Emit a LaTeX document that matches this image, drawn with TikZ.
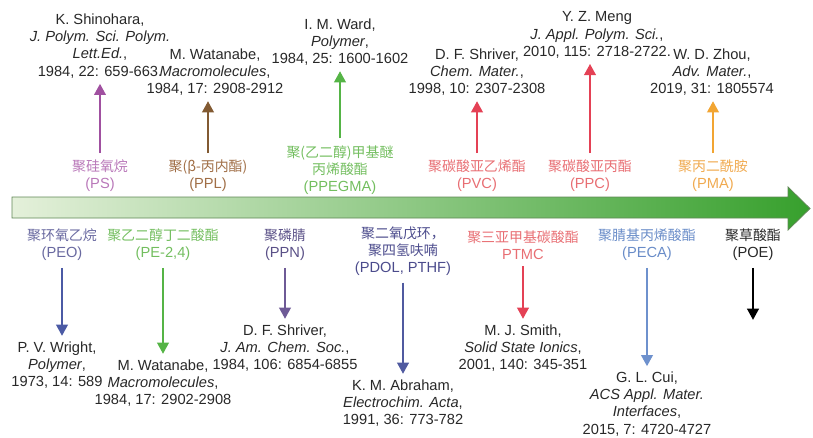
\documentclass[tikz,border=0pt]{standalone}
\usepackage{fontspec}
\setmainfont{Liberation Sans}
\newfontfamily\cjk{Noto Sans CJK SC}[Scale=0.95]
\usetikzlibrary{arrows.meta}

\definecolor{refgray}{RGB}{40,40,40}
\definecolor{barleft}{RGB}{228,240,218}
\definecolor{barmid}{RGB}{140,200,115}
\definecolor{barright}{RGB}{55,160,45}
\definecolor{barline}{RGB}{95,135,85}
\definecolor{psarr}{RGB}{160,80,160}   \definecolor{pstxt}{RGB}{185,120,185}
\definecolor{pplarr}{RGB}{130,90,50}   \definecolor{ppltxt}{RGB}{160,110,70}
\definecolor{grnarr}{RGB}{85,180,70}   \definecolor{grntxt}{RGB}{115,190,95}
\definecolor{redarr}{RGB}{228,65,85}   \definecolor{redtxt}{RGB}{232,110,115}
\definecolor{orgarr}{RGB}{242,165,50}  \definecolor{orgtxt}{RGB}{240,170,80}
\definecolor{peoarr}{RGB}{75,90,165}   \definecolor{peotxt}{RGB}{105,105,160}
\definecolor{ppnarr}{RGB}{110,90,150}  \definecolor{ppntxt}{RGB}{90,80,135}
\definecolor{pdolarr}{RGB}{80,90,160}  \definecolor{pdoltxt}{RGB}{75,75,140}
\definecolor{pecaarr}{RGB}{110,145,205}\definecolor{pecatxt}{RGB}{105,140,200}

\tikzset{
  txt/.style={align=center, inner sep=1pt, font=\fontsize{11}{12.9}\selectfont},
  ref/.style={txt, text=refgray},
  tick/.style={line width=2.2pt, -{Triangle[width=8.5pt,length=8.5pt]},
    shorten <=4pt, shorten >=3pt}
}

\begin{document}
\begin{tikzpicture}[x=0.75pt,y=-0.75pt]
  \useasboundingbox (0,0) rectangle (813,437);

  % timeline
  \shadedraw[left color=barleft, middle color=barmid, right color=barright,
    draw=barline, line width=0.6pt]
    (12,197) -- (788,197) -- (788,187) -- (810,208.5) -- (788,230)
    -- (788,218) -- (12,218) -- cycle;

  % above the timeline
  \node[ref] (shinohara) at (100,46) {K. Shinohara,\\ \textit{J. Polym. Sci. Polym.}\\ \textit{Lett.Ed.},\\ 1984, 22: 659-663.};
  \node[ref] (watanabeA) at (215,72) {M. Watanabe,\\ \textit{Macromolecules},\\ 1984, 17: 2908-2912};
  \node[ref] (ward) at (340,42) {I. M. Ward,\\ \textit{Polymer},\\ 1984, 25: 1600-1602};
  \node[ref] (shriverA) at (477,72) {D. F. Shriver,\\ \textit{Chem. Mater.},\\ 1998, 10: 2307-2308};
  \node[ref] (meng) at (597,35) {Y. Z. Meng\\ \textit{J. Appl. Polym. Sci.},\\ 2010, 115: 2718-2722.};
  \node[ref] (zhou) at (712,72) {W. D. Zhou,\\ \textit{Adv. Mater.},\\ 2019, 31: 1805574};

  \node[txt, text=pstxt] (ps) at (100,176) {{\cjk 聚硅氧烷}\\(PS)};
  \node[txt, text=ppltxt] (ppl) at (208,176) {{\cjk 聚(β-丙内酯)}\\(PPL)};
  \node[txt, text=grntxt] (ppegma) at (340,170) {{\cjk 聚(乙二醇)甲基醚}\\{\cjk 丙烯酸酯}\\(PPEGMA)};
  \node[txt, text=redtxt] (pvc) at (477,176) {{\cjk 聚碳酸亚乙烯酯}\\(PVC)};
  \node[txt, text=redtxt] (ppc) at (590,176) {{\cjk 聚碳酸亚丙酯}\\(PPC)};
  \node[txt, text=orgtxt] (pma) at (713,176) {{\cjk 聚丙二酰胺}\\(PMA)};

  \draw[tick, psarr] (ps.north) -- (ps.north |- shinohara.south);
  \draw[tick, pplarr] (ppl.north) -- (ppl.north |- watanabeA.south);
  \draw[tick, grnarr] (ppegma.north) -- (ppegma.north |- ward.south);
  \draw[tick, redarr] (pvc.north) -- (pvc.north |- shriverA.south);
  \draw[tick, redarr] (ppc.north) -- (ppc.north |- meng.south);
  \draw[tick, orgarr] (pma.north) -- (pma.north |- zhou.south);

  % below the timeline
  \node[txt, text=peotxt] (peo) at (62,245) {{\cjk 聚环氧乙烷}\\(PEO)};
  \node[txt, text=grntxt] (pe24) at (163,245) {{\cjk 聚乙二醇丁二酸酯}\\(PE-2,4)};
  \node[txt, text=ppntxt] (ppn) at (285,245) {{\cjk 聚磷腈}\\(PPN)};
  \node[txt, text=pdoltxt] (pdol) at (403,251) {{\cjk 聚二氧戊环，}\\{\cjk 聚四氢呋喃}\\(PDOL, PTHF)};
  \node[txt, text=redtxt] (ptmc) at (523,245) {{\cjk 聚三亚甲基碳酸酯}\\PTMC};
  \node[txt, text=pecatxt] (peca) at (647,245) {{\cjk 聚腈基丙烯酸酯}\\(PECA)};
  \node[txt, text=refgray] (poe) at (753,245) {{\cjk 聚草酸酯}\\(POE)};

  \node[ref] (wright) at (57,365) {P. V. Wright,\\ \textit{Polymer},\\ 1973, 14: 589};
  \node[ref] (watanabeB) at (163,383) {M. Watanabe,\\ \textit{Macromolecules},\\ 1984, 17: 2902-2908};
  \node[ref] (shriverB) at (285,348) {D. F. Shriver,\\ \textit{J. Am. Chem. Soc.},\\ 1984, 106: 6854-6855};
  \node[ref] (abraham) at (403,403) {K. M. Abraham,\\ \textit{Electrochim. Acta},\\ 1991, 36: 773-782};
  \node[ref] (smith) at (523,348) {M. J. Smith,\\ \textit{Solid State Ionics},\\ 2001, 140: 345-351};
  \node[ref] (cui) at (647,404) {G. L. Cui,\\ \textit{ACS Appl. Mater.}\\ \textit{Interfaces},\\ 2015, 7: 4720-4727};
  \coordinate (poeend) at (753,320);

  \draw[tick, peoarr] (peo.south) -- (peo.south |- wright.north);
  \draw[tick, grnarr] (pe24.south) -- (pe24.south |- watanabeB.north);
  \draw[tick, ppnarr] (ppn.south) -- (ppn.south |- shriverB.north);
  \draw[tick, pdolarr] (pdol.south) -- (pdol.south |- abraham.north);
  \draw[tick, redarr] (ptmc.south) -- (ptmc.south |- smith.north);
  \draw[tick, pecaarr] (peca.south) -- (peca.south |- cui.north);
  \draw[tick, black, shorten >=0pt] (poe.south) -- (poeend);
\end{tikzpicture}
\end{document}
